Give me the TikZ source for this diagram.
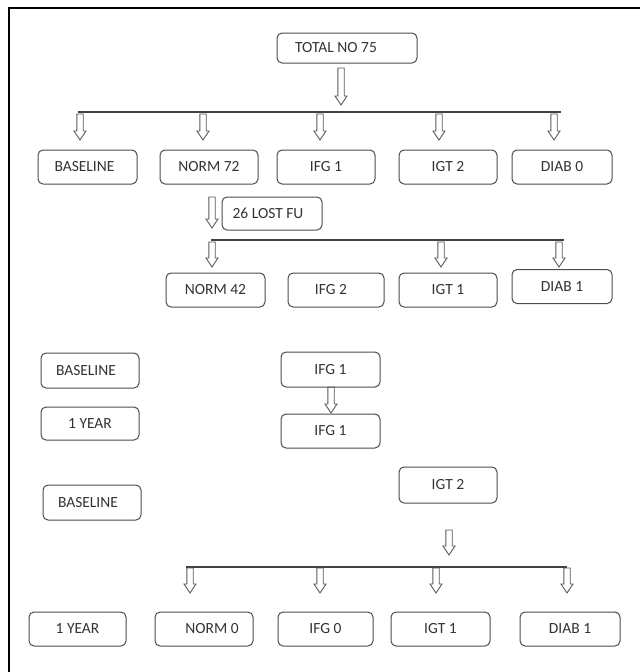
\documentclass[tikz,border=0pt]{standalone}
\usepackage{fontspec}
\setmainfont{Carlito}
\begin{document}
\begin{tikzpicture}[x=1pt,y=-1pt,
  box/.style={draw=black!70, line width=1pt, rounded corners=5pt, fill=white, inner sep=0pt,
    font=\fontsize{15.5}{15.5}\selectfont, text=black!80},
  hline/.style={draw=black!75, line width=1.4pt},
  frameline/.style={draw=black, line width=2pt},
  harrow/.pic={\draw[black!65, line width=0.9pt, line join=miter]
     (-3.2,0) -- (-3.2,{#1-9}) -- (-6,{#1-9}) -- (0,#1) -- (6,{#1-9}) -- (3.2,{#1-9}) -- (3.2,0) -- cycle;}
]
\useasboundingbox (0,0) rectangle (640,672);
% frame
\coordinate (fbl) at (9,672);
\coordinate (ftl) at (9,8);
\coordinate (ftr) at (640,8);
\draw[frameline] (fbl) -- (ftl) -- (ftr);

% boxes
\node[box, minimum width=140, minimum height=30] (total) at (347,48) {TOTAL NO 75\hspace*{22pt}};

\node[box, minimum width=99, minimum height=34] (base1) at (87.5,167) {BASELINE\hspace*{6pt}};
\node[box, minimum width=98, minimum height=34] (norm72) at (209,167) {NORM 72};
\node[box, minimum width=98, minimum height=34] (ifg1) at (326,167) {IFG 1};
\node[box, minimum width=98, minimum height=34] (igt2) at (448,167) {IGT 2};
\node[box, minimum width=100, minimum height=34] (diab0) at (562,167) {DIAB 0};

\node[box, minimum width=100, minimum height=33] (lost) at (272,213.5) {26 LOST FU\hspace*{8pt}};

\node[box, minimum width=99, minimum height=34] (norm42) at (215.5,290) {NORM 42};
\node[box, minimum width=96, minimum height=34] (ifg2) at (336,290) {IFG 2\hspace*{10pt}};
\node[box, minimum width=98, minimum height=34] (igt1) at (448,290) {IGT 1};
\node[box, minimum width=100, minimum height=34] (diab1) at (562,286.5) {DIAB 1};

\node[box, minimum width=98, minimum height=35] (base2) at (90,370.5) {BASELINE\hspace*{8pt}};
\node[box, minimum width=98, minimum height=33] (year1) at (90,423.5) {1 YEAR};
\node[box, minimum width=99, minimum height=35] (ifgA) at (330.5,369.5) {IFG 1};
\node[box, minimum width=99, minimum height=34] (ifgB) at (330.5,431) {IFG 1};

\node[box, minimum width=98, minimum height=36] (igt2b) at (448,485) {IGT 2};
\node[box, minimum width=98, minimum height=35] (base3) at (92,502.5) {BASELINE\hspace*{8pt}};

\node[box, minimum width=97, minimum height=34] (year2) at (77.5,629) {1 YEAR};
\node[box, minimum width=98, minimum height=34] (norm0) at (204,629) {\hspace*{16pt}NORM 0};
\node[box, minimum width=95, minimum height=34] (ifg0) at (325.5,629) {IFG 0};
\node[box, minimum width=99, minimum height=34] (igt1b) at (440.5,629) {IGT 1};
\node[box, minimum width=100, minimum height=34] (diab1b) at (570,629) {DIAB 1};

% level 1
\pic at (341,68) {harrow=37};
\coordinate (h1l) at (78,112);
\coordinate (h1r) at (561,112);
\draw[hline] (h1l) -- (h1r);
\foreach \x in {80,203,320,439,554} { \pic at (\x,114) {harrow=26}; }

% level 2
\pic at (212,197) {harrow=31};
\coordinate (h2l) at (211,240);
\coordinate (h2r) at (564,240);
\draw[hline] (h2l) -- (h2r);
\foreach \x in {212,441,559} { \pic at (\x,242) {harrow=25}; }

% IFG
\pic at (331,387) {harrow=26};

% IGT
\pic at (449,530) {harrow=25};
\coordinate (h3l) at (186,567);
\coordinate (h3r) at (567,567);
\draw[hline] (h3l) -- (h3r);
\foreach \x in {190,320,436,567} { \pic at (\x,568) {harrow=25}; }
\end{tikzpicture}
\end{document}
